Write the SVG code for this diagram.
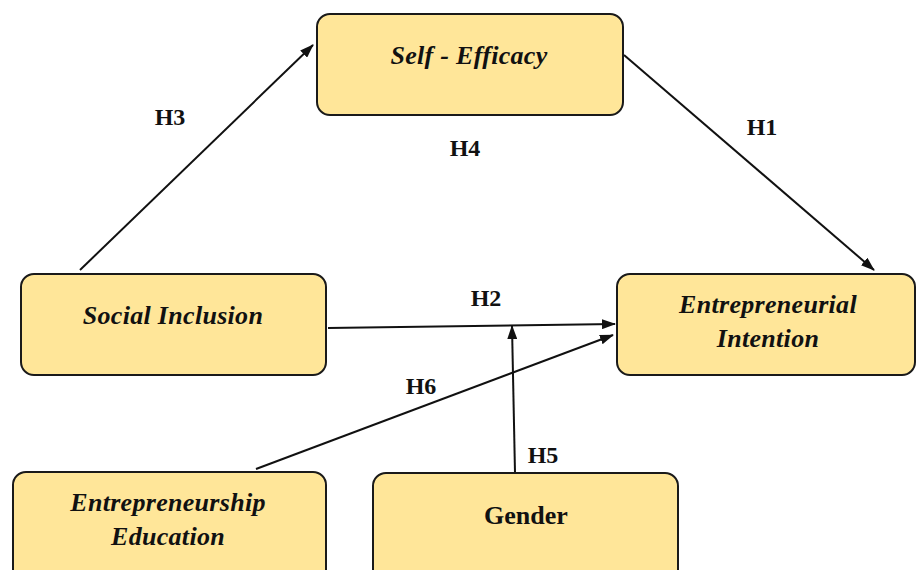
<svg xmlns="http://www.w3.org/2000/svg" width="916" height="570" viewBox="0 0 916 570">
<style>
.box{fill:#FFE699;stroke:#1a1a1a;stroke-width:2}
.t{font-family:"Liberation Serif","Times New Roman",serif;font-weight:bold;font-style:italic;font-size:26px;letter-spacing:0.3px;fill:#111;text-anchor:middle}
.g{font-family:"Liberation Serif","Times New Roman",serif;font-weight:bold;font-size:26px;fill:#111;text-anchor:middle}
.h{font-family:"Liberation Serif","Times New Roman",serif;font-weight:bold;font-size:24px;fill:#111;text-anchor:middle}
.c{stroke:#111;stroke-width:2;fill:none;marker-end:url(#arr)}
</style>
<defs>
<marker id="arr" viewBox="0 0 14 10" refX="13" refY="5" markerWidth="14" markerHeight="10" markerUnits="userSpaceOnUse" orient="auto">
<path d="M0,0 L14,5 L0,10 z" fill="#111"/>
</marker>
</defs>
<rect width="916" height="570" fill="#fff"/>
<g id="connectors">
<line class="c" x1="80" y1="270" x2="313" y2="45"/>
<line class="c" x1="624" y1="55" x2="874" y2="270"/>
<line class="c" x1="328" y1="328" x2="615" y2="324"/>
<line class="c" x1="515" y1="473" x2="512" y2="326"/>
<line class="c" x1="256" y1="469" x2="613" y2="335"/>
<text class="h" x="170" y="125">H3</text>
<text class="h" x="465" y="156">H4</text>
<text class="h" x="762" y="135">H1</text>
<text class="h" x="486" y="306">H2</text>
<text class="h" x="421" y="394">H6</text>
<text class="h" x="543" y="463">H5</text>
</g>
<g id="self-efficacy">
<rect class="box" x="317" y="14" width="306" height="101" rx="13"/>
<text class="t" x="469" y="64">Self - Efficacy</text>
</g>
<g id="social-inclusion">
<rect class="box" x="21" y="274" width="305" height="101" rx="13"/>
<text class="t" x="173" y="324">Social Inclusion</text>
</g>
<g id="entrepreneurial-intention">
<rect class="box" x="617" y="274" width="298" height="101" rx="13"/>
<text class="t" x="768" y="313">Entrepreneurial</text>
<text class="t" x="768" y="347">Intention</text>
</g>
<g id="entrepreneurship-education">
<rect class="box" x="13" y="472" width="313" height="110" rx="13"/>
<text class="t" x="168" y="511">Entrepreneurship</text>
<text class="t" x="168" y="545">Education</text>
</g>
<g id="gender">
<rect class="box" x="373" y="473" width="305" height="110" rx="13"/>
<text class="g" x="526" y="524">Gender</text>
</g>
</svg>
